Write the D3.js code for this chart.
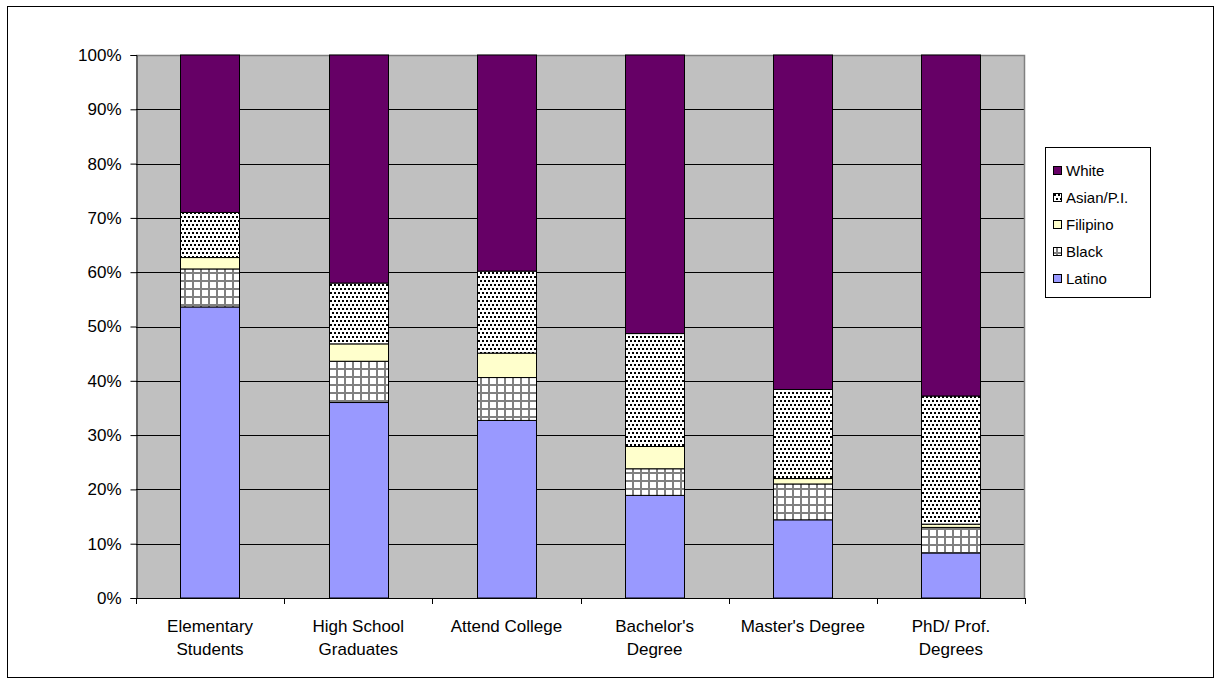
<!DOCTYPE html>
<html>
<head>
<meta charset="utf-8">
<script src="https://cdn.jsdelivr.net/npm/d3@7"></script>
<style>
  html, body { margin: 0; padding: 0; background: #fff; }
  svg { display: block; font-family: "Liberation Sans", Arial, sans-serif; }
</style>
</head>
<body>
<svg id="chart" width="1222" height="685"></svg>
<script>
// Share of each group at every education stage (percent, stacks to 100)
const categories = ["Elementary Students", "High School Graduates", "Attend College",
                    "Bachelor's Degree", "Master's Degree", "PhD/ Prof. Degrees"];
const categoryLines = [["Elementary", "Students"], ["High School", "Graduates"], ["Attend College"],
                       ["Bachelor's", "Degree"], ["Master's Degree"], ["PhD/ Prof.", "Degrees"]];
const seriesNames = ["Latino", "Black", "Filipino", "Asian/P.I.", "White"];
const latino   = [53.6, 36.0, 32.7, 18.9, 14.4, 8.3];
const black    = [7.0, 7.6, 7.9, 4.9, 6.6, 4.7];
const filipino = [2.1, 3.2, 4.5, 4.1, 1.0, 0.6];
const asianPI  = [8.3, 11.2, 15.1, 20.8, 16.4, 23.6];
const white    = [29.0, 42.0, 39.8, 51.3, 61.6, 62.8];
const yTicks = [0, 0.1, 0.2, 0.3, 0.4, 0.5, 0.6, 0.7, 0.8, 0.9, 1.0];

const seriesValues = [latino, black, filipino, asianPI, white];
const rows = categories.map((c, i) => {
  const r = { category: c };
  seriesNames.forEach((s, k) => { r[s] = seriesValues[k][i]; });
  return r;
});

const svg = d3.select("#chart");
const plot = { left: 136, right: 1025, top: 55, bottom: 598 };

// outer chart frame
svg.append("rect").attr("x", 7.5).attr("y", 6.5).attr("width", 1206).attr("height", 671)
  .attr("fill", "#fff").attr("stroke", "#000").attr("stroke-width", 1);

// fills: solid colours and two hatch patterns
const defs = svg.append("defs");
const dots = defs.append("pattern").attr("id", "pat-dots")
  .attr("patternUnits", "userSpaceOnUse").attr("width", 4).attr("height", 8);
dots.append("rect").attr("width", 4).attr("height", 8).attr("fill", "#fff");
dots.append("rect").attr("x", 0).attr("y", 0).attr("width", 2).attr("height", 2).attr("fill", "#000");
dots.append("rect").attr("x", 2).attr("y", 4).attr("width", 2).attr("height", 2).attr("fill", "#000");

const grid = defs.append("pattern").attr("id", "pat-grid")
  .attr("patternUnits", "userSpaceOnUse").attr("width", 8).attr("height", 8);
grid.append("rect").attr("width", 8).attr("height", 8).attr("fill", "#fff");
grid.append("rect").attr("x", 0).attr("y", 0).attr("width", 2).attr("height", 8).attr("fill", "#808080");
grid.append("rect").attr("x", 0).attr("y", 0).attr("width", 8).attr("height", 2).attr("fill", "#808080");

const fills = {
  "Latino": "#9999FF",
  "Black": "url(#pat-grid)",
  "Filipino": "#FFFFCC",
  "Asian/P.I.": "url(#pat-dots)",
  "White": "#660066"
};

const x = d3.scaleBand().domain(categories).range([plot.left, plot.right])
  .paddingInner(0.6).paddingOuter(0.3);
const y = d3.scaleLinear().domain([0, 1]).range([plot.bottom, plot.top]);

// plot area background
svg.append("rect").attr("x", plot.left).attr("y", plot.top)
  .attr("width", plot.right - plot.left).attr("height", plot.bottom - plot.top)
  .attr("fill", "#C0C0C0");

// horizontal gridlines
svg.append("g").selectAll("line").data(yTicks.filter(t => t > 0 && t < 1)).join("line")
  .attr("x1", plot.left).attr("x2", plot.right)
  .attr("y1", d => Math.round(y(d)) + 0.5).attr("y2", d => Math.round(y(d)) + 0.5)
  .attr("stroke", "#000").attr("stroke-width", 1);

// plot area border (top and right)
svg.append("path")
  .attr("d", `M${plot.left},${plot.top + 0.5}H${plot.right - 0.5}V${plot.bottom}`)
  .attr("fill", "none").attr("stroke", "#808080").attr("stroke-width", 1.5);

// stacked segments
const stack = d3.stack().keys(seriesNames).offset(d3.stackOffsetExpand);
const layers = stack(rows);
svg.append("g").selectAll("g").data(layers).join("g")
  .attr("fill", d => fills[d.key])
  .selectAll("rect").data(d => d).join("rect")
  .attr("x", d => Math.round(x(d.data.category)) + 0.5)
  .attr("width", Math.round(x.bandwidth()))
  .attr("y", d => y(d[1]))
  .attr("height", d => y(d[0]) - y(d[1]))
  .attr("stroke", "#000").attr("stroke-width", 1);

// y axis
const yAxis = d3.axisLeft(y).tickValues(yTicks).tickFormat(d3.format(".0%"))
  .tickSizeOuter(0).tickSize(6).tickPadding(9);
const gy = svg.append("g").attr("transform", `translate(${plot.left + 0.5},0)`).call(yAxis);
gy.select(".domain").attr("stroke", "#000");
gy.selectAll(".tick line").attr("stroke", "#000");
gy.selectAll(".tick text").attr("font-size", 17).attr("fill", "#000")
  .attr("font-family", "'Liberation Sans', Arial, sans-serif");

// x axis: baseline with ticks at category boundaries
const gx = svg.append("g");
gx.append("line").attr("x1", plot.left).attr("x2", plot.right)
  .attr("y1", plot.bottom + 0.5).attr("y2", plot.bottom + 0.5).attr("stroke", "#000");
const boundaries = d3.range(categories.length + 1).map(i => plot.left + i * x.step());
gx.selectAll("line.tk").data(boundaries).join("line").attr("class", "tk")
  .attr("x1", d => Math.round(d) + 0.5).attr("x2", d => Math.round(d) + 0.5)
  .attr("y1", plot.bottom).attr("y2", plot.bottom + 6).attr("stroke", "#000");
gx.selectAll("text").data(categories).join("text")
  .attr("x", d => x(d) + x.bandwidth() / 2)
  .attr("y", 632)
  .attr("text-anchor", "middle").attr("font-size", 17).attr("fill", "#000")
  .each(function (d, i) {
    d3.select(this).selectAll("tspan").data(categoryLines[i]).join("tspan")
      .attr("x", x(d) + x.bandwidth() / 2)
      .attr("dy", (t, j) => j === 0 ? 0 : 23)
      .text(t => t);
  });

// legend, top entry is the top layer
const legend = svg.append("g");
legend.append("rect").attr("x", 1045.5).attr("y", 147.5).attr("width", 105).attr("height", 150)
  .attr("fill", "#fff").attr("stroke", "#000").attr("stroke-width", 1);
const legendOrder = seriesNames.slice().reverse();
const item = legend.selectAll("g.item").data(legendOrder).join("g").attr("class", "item")
  .attr("transform", (d, i) => `translate(0,${171 + i * 27})`);
item.append("rect").attr("x", 1053.5).attr("y", -4.5).attr("width", 8).attr("height", 8)
  .attr("fill", d => fills[d]).attr("stroke", "#000").attr("stroke-width", 1);
item.append("text").attr("x", 1066).attr("y", 0).attr("dy", "0.36em")
  .attr("font-size", 15).attr("fill", "#000").text(d => d);
</script>
</body>
</html>
